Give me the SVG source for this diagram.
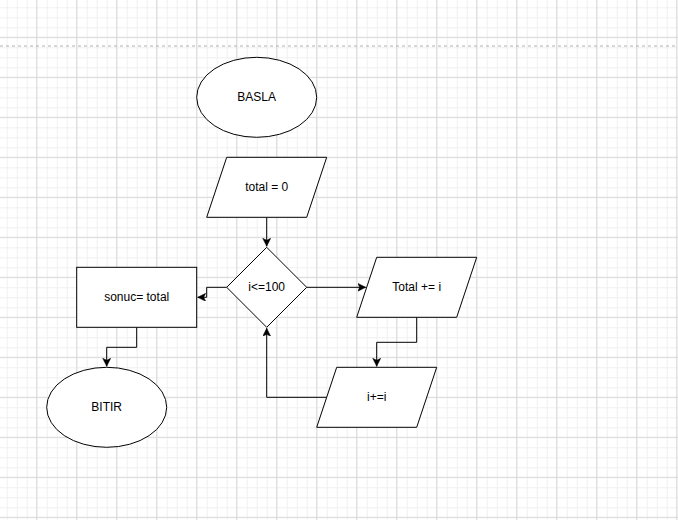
<svg xmlns="http://www.w3.org/2000/svg" width="678" height="520" viewBox="0 0 678 520">
<style>
.shape{fill:#ffffff;stroke:#000000;stroke-width:1}
.lbl{font-family:"Liberation Sans",Arial,Helvetica,sans-serif;font-size:12px;fill:#000000;text-anchor:middle;dominant-baseline:central}
.edge{fill:none;stroke:#000000;stroke-width:1}
</style>
<defs>
<pattern id="minor" patternUnits="userSpaceOnUse" x="6.7" y="7.3" width="10" height="10">
<path d="M0 0.5H10M0.5 0V10" fill="none" stroke="#f0f0f0" stroke-width="1"/>
</pattern>
<pattern id="major" patternUnits="userSpaceOnUse" x="36.2" y="36.8" width="40" height="40">
<path d="M0 0.5H40M0.5 0V40" fill="none" stroke="#dadada" stroke-width="1"/>
</pattern>
<marker id="arr" markerUnits="userSpaceOnUse" markerWidth="10" markerHeight="10" refX="8" refY="4" orient="auto">
<path d="M0,0 L8,4 L0,8 L2,4 Z" fill="#000000" stroke="#000000" stroke-width="0.5"/>
</marker>
</defs>
<rect x="0" y="0" width="678" height="520" fill="#ffffff"/>
<rect x="0" y="0" width="678" height="520" fill="url(#minor)"/>
<rect x="0" y="0" width="678" height="520" fill="url(#major)"/>
<line x1="0" y1="46" x2="678" y2="46" stroke="#b0b0b0" stroke-width="1" stroke-dasharray="3 3"/>

<g id="connectors">
<path class="edge" d="M266.7 217.3V246.3" marker-end="url(#arr)"/>
<path class="edge" d="M226.7 287.3H206.7V297.3H197.7" marker-end="url(#arr)"/>
<path class="edge" d="M136.7 327.3V347.3H106.7V366.3" marker-end="url(#arr)"/>
<path class="edge" d="M306.7 287.3H365.7" marker-end="url(#arr)"/>
<path class="edge" d="M416.7 317.3V342.3H376.7V366.3" marker-end="url(#arr)"/>
<path class="edge" d="M326.7 397.3H266.7V328.3" marker-end="url(#arr)"/>
</g>

<g id="basla">
<ellipse class="shape" cx="256.7" cy="97.3" rx="60" ry="40"/>
<text class="lbl" x="256.7" y="97.3">BASLA</text>
</g>
<g id="total0">
<polygon class="shape" points="226.7,157.3 326.7,157.3 306.7,217.3 206.7,217.3"/>
<text class="lbl" x="266.7" y="187.3">total = 0</text>
</g>
<g id="cond">
<polygon class="shape" points="266.7,247.3 306.7,287.3 266.7,327.3 226.7,287.3"/>
<text class="lbl" x="266.7" y="287.3">i&lt;=100</text>
</g>
<g id="sonuc">
<rect class="shape" x="76.7" y="267.3" width="120" height="60"/>
<text class="lbl" x="136.7" y="297.3">sonuc= total</text>
</g>
<g id="bitir">
<ellipse class="shape" cx="106.7" cy="407.3" rx="60" ry="40"/>
<text class="lbl" x="106.7" y="407.3">BITIR</text>
</g>
<g id="totalinc">
<polygon class="shape" points="376.7,257.3 476.7,257.3 456.7,317.3 356.7,317.3"/>
<text class="lbl" x="416.7" y="287.3">Total += i</text>
</g>
<g id="iinc">
<polygon class="shape" points="336.7,367.3 436.7,367.3 416.7,427.3 316.7,427.3"/>
<text class="lbl" x="376.7" y="397.3">i+=i</text>
</g>
</svg>
